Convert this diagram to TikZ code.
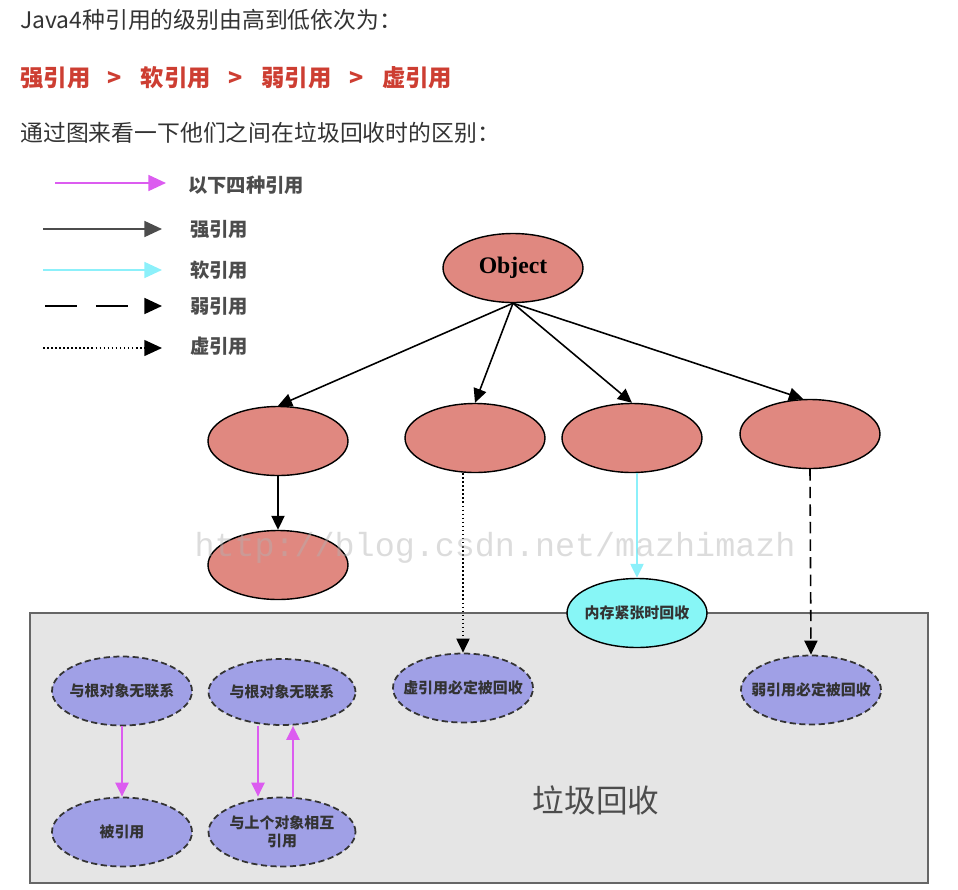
\documentclass[tikz,border=0pt]{standalone}
\usepackage{fontspec}
\newfontfamily\cjk{Noto Sans CJK SC}
\newfontfamily\objfont{Liberation Serif}
\newfontfamily\wmfont{Liberation Mono}
\usetikzlibrary{shapes.geometric,arrows.meta,calc}
\definecolor{objred}{RGB}{224,136,128}
\definecolor{softcyan}{RGB}{135,246,246}
\definecolor{gclav}{RGB}{160,160,230}
\definecolor{boxgray}{RGB}{229,229,229}
\definecolor{fourmag}{RGB}{220,92,240}
\definecolor{softline}{RGB}{140,240,250}
\definecolor{levelred}{RGB}{205,62,50}
\definecolor{toptext}{RGB}{51,51,51}

\begin{document}
\begin{tikzpicture}[x=0.02cm,y=-0.02cm,>={Triangle[length=8pt,width=7.5pt]},
    refnode/.style={ellipse,draw,line width=0.8pt,fill=objred,minimum width=2.8cm,minimum height=1.38cm,inner sep=0pt},
    softnode/.style={refnode,fill=softcyan,label={[nodetext]center:#1}},
    gcnode/.style={refnode,fill=gclav,dashed,dash pattern=on 3.5pt off 2pt,line width=1pt,draw=black!80,label={[nodetext]center:#1}},
    nodetext/.style={font=\cjk\bfseries\fontsize{8.5}{10}\selectfont,text=black!80,align=center,inner sep=0pt},
    legendtext/.style={anchor=west,font=\cjk\bfseries\fontsize{11}{13}\selectfont,text=black!70},
    strongref/.style={line width=0.9pt},
    softref/.style={line width=1.1pt,draw=softline},
    weakref/.style={line width=0.9pt,dash pattern=on 6.5pt off 3.5pt},
    phantomref/.style={line width=0.9pt,dash pattern=on 0.9pt off 1.4pt},
    fourref/.style={line width=1.2pt,draw=fourmag},
    legendline/.style={line width=1.2pt,>={Triangle[length=10pt,width=9pt]}}
]
      \useasboundingbox (0,0) rectangle (958,890);

      % text above the picture
      \node [anchor=west,font=\cjk\fontsize{13}{15}\selectfont,text=toptext,inner sep=0pt] (intro) at (20,20) {Java4种引用的级别由高到低依次为：};
      \node [anchor=west,font=\cjk\bfseries\fontsize{13.3}{15}\selectfont,text=levelred,inner sep=0pt] (levels) at (20,78)
            {强引用\hspace{0.75em}>\hspace{0.8em}软引用\hspace{0.75em}>\hspace{0.8em}弱引用\hspace{0.75em}>\hspace{0.8em}虚引用};
      \node [anchor=west,font=\cjk\fontsize{13}{15}\selectfont,text=toptext,inner sep=0pt] (lead) at (20,133) {通过图来看一下他们之间在垃圾回收时的区别：};

      % legend
      \coordinate (l1a) at (55,183);  \coordinate (l1b) at (166,183);
      \coordinate (l2a) at (43,229);  \coordinate (l2b) at (162,229);
      \coordinate (l3a) at (43,270);  \coordinate (l3b) at (162,270);
      \coordinate (l4a) at (45,306);  \coordinate (l4b) at (162,306);
      \coordinate (l5a) at (43,348);  \coordinate (l5b) at (162,348);
      \draw [legendline,fourref,line width=1.2pt,->] (l1a) -- (l1b);
      \draw [legendline,draw=black!70,->] (l2a) -- (l2b);
      \draw [legendline,softref,line width=1.2pt,->] (l3a) -- (l3b);
      \draw [legendline,dash pattern=on 18pt off 11pt,->] (l4a) -- (l4b);
      \draw [legendline,line width=0.9pt,dash pattern=on 0.9pt off 1.4pt,->] (l5a) -- (l5b);
      \node [legendtext] (lg1) at (182,185) {以下四种引用};
      \node [legendtext] (lg2) at (184,229) {强引用};
      \node [legendtext] (lg3) at (184,270) {软引用};
      \node [legendtext] (lg4) at (184,306) {弱引用};
      \node [legendtext] (lg5) at (184,346) {虚引用};

      % garbage collection area
      \draw [draw=black!60,line width=1.3pt,fill=boxgray] (30,613) rectangle (928,883);
      \node [font=\cjk\fontsize{18}{20}\selectfont,text=black!70] (gclabel) at (596,800) {垃圾回收};

      % references
      \node [refnode,font=\objfont\bfseries\fontsize{13.5}{15}\selectfont] (obj) at (513,268) {Object};
      \node [refnode] (a) at (278,441) {};
      \node [refnode] (b) at (475,438) {};
      \node [refnode] (c) at (632,438) {};
      \node [refnode] (d) at (810,434) {};
      \node [refnode] (e) at (278,565) {};

      \node [softnode={内存紧张时回收}] (soft) at (637,613) {};
      \node [gcnode={虚引用必定被回收}] (ph) at (463,688) {};
      \node [gcnode={弱引用必定被回收}] (weak) at (811,690) {};
      \node [gcnode={与根对象无联系}] (f1) at (122,691) {};
      \node [gcnode={被引用}] (f2) at (122,832) {};
      \node [gcnode={与根对象无联系},minimum width=2.94cm,minimum height=1.32cm] (g1) at (282,692) {};
      \node [gcnode={与上个对象相互\\引用},minimum width=2.94cm] (g2) at (282,832) {};

      \draw [strongref,->] (obj.south) -- (a.north);
      \draw [strongref,->] (obj.south) -- (b.north);
      \draw [strongref,->] (obj.south) -- (c.north);
      \draw [strongref,->] (obj.south) -- ([xshift=-0.14cm]d.north);
      \draw [strongref,->] (a) -- (e);
      \draw [phantomref,->] (ph.north |- b.south) -- (ph.north);
      \draw [softref,->] (soft.north |- c.south) -- (soft.north);
      \draw [weakref,->] (d.south) -- (weak.north);
      \draw [fourref,->] (f1) -- (f2);
      \draw [fourref,->] ([xshift=-0.48cm]g1.south) -- ([xshift=-0.48cm]g2.north);
      \draw [fourref,->] ([xshift=0.22cm]g2.north) -- ([xshift=0.22cm]g1.south);

      % watermark
      \node [font=\wmfont\fontsize{19}{21}\selectfont,text=black!30,opacity=0.45] (wm) at (495,548) {http://blog.csdn.net/mazhimazh};

    \end{tikzpicture}
\end{document}
